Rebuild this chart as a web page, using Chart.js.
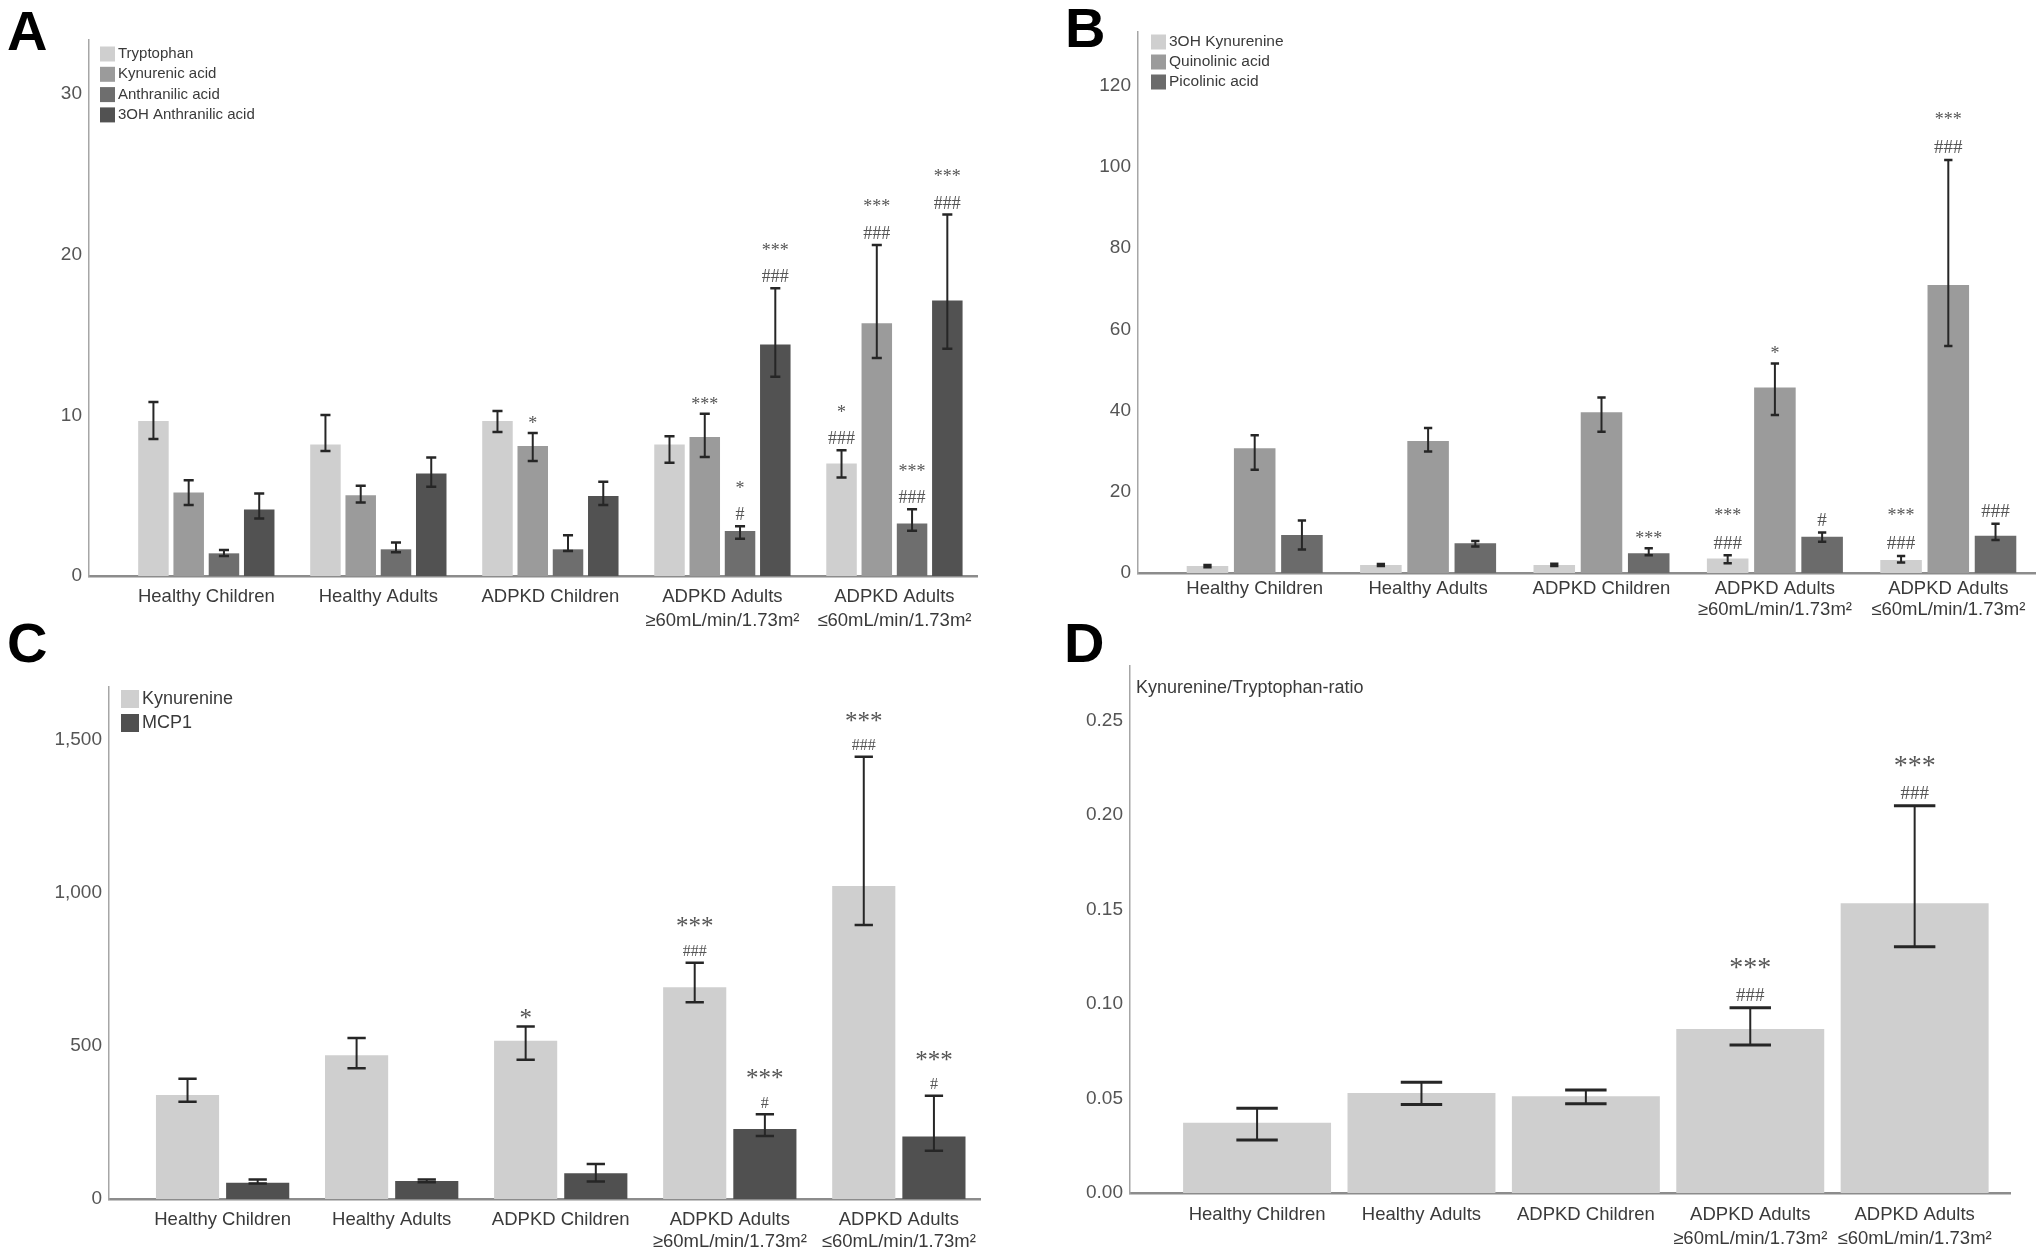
<!DOCTYPE html>
<html>
<head>
<meta charset="utf-8">
<script src="https://cdn.jsdelivr.net/npm/chart.js@4.4.1/dist/chart.umd.min.js"></script>
<style>
  body { margin: 0; background: #fff; }
  #page { position: relative; width: 2041px; height: 1258px; overflow: hidden; background: #fff; }
  canvas { position: absolute; }
  .letter { position: absolute; font: bold 56px 'Liberation Sans', Arial, sans-serif; line-height: 56px; color: #000; }
</style>
</head>
<body>
<div id="page">
  <canvas id="chartA" width="1000" height="640" style="left:0;top:0"></canvas>
  <canvas id="chartB" width="987" height="640" style="left:1054px;top:0"></canvas>
  <canvas id="chartC" width="1000" height="618" style="left:0;top:640px"></canvas>
  <canvas id="chartD" width="987" height="618" style="left:1054px;top:640px"></canvas>
  <div class="letter" style="left:7px;top:3px">A</div>
  <div class="letter" style="left:1065px;top:0">B</div>
  <div class="letter" style="left:7px;top:615px">C</div>
  <div class="letter" style="left:1064px;top:615px">D</div>
</div>
<script>
// groups shared by all four panels
const groups = [
    ['Healthy Children'],
    ['Healthy Adults'],
    ['ADPKD Children'],
    ['ADPKD Adults', '≥60mL/min/1.73m²'],
    ['ADPKD Adults', '≤60mL/min/1.73m²']
];

// Panel A
const aTicks = [0, 10, 20, 30];
const aTickLabels = ['0', '10', '20', '30'];
const tryptophan = [9.65, 8.18, 9.65, 8.18, 7.0];
const tryptophanLow = [8.53, 7.78, 8.96, 7.04, 6.13];
const tryptophanHigh = [10.83, 10.02, 10.27, 8.7, 7.83];
const tryptophanNotes = ['', '', '', '', ['*', '###']];
const kynurenicAcid = [5.2, 5.03, 8.09, 8.65, 15.73];
const kynurenicLow = [4.41, 4.57, 7.16, 7.41, 13.56];
const kynurenicHigh = [5.96, 5.61, 8.9, 10.1, 20.6];
const kynurenicNotes = ['', '', ['*'], ['***'], ['***', '###']];
const anthranilicAcid = [1.41, 1.66, 1.66, 2.8, 3.27];
const anthranilicLow = [1.24, 1.47, 1.55, 2.32, 2.82];
const anthranilicHigh = [1.61, 2.09, 2.53, 3.1, 4.16];
const anthranilicNotes = ['', '', '', ['*', '#'], ['***', '###']];
const ohAnthranilic = [4.14, 6.38, 4.97, 14.4, 17.14];
const ohAnthranilicLow = [3.58, 5.55, 4.41, 12.4, 14.14];
const ohAnthranilicHigh = [5.14, 7.37, 5.86, 17.9, 22.5];
const ohAnthranilicNotes = ['', '', '', ['***', '###'], ['***', '###']];

// Panel B
const bTicks = [0, 20, 40, 60, 80, 100, 120];
const bTickLabels = ['0', '20', '40', '60', '80', '100', '120'];
const ohKynurenine = [1.72, 1.97, 1.97, 3.6, 3.2];
const ohKynurenineLow = [1.4, 1.7, 1.7, 2.4, 2.6];
const ohKynurenineHigh = [2.0, 2.2, 2.3, 4.4, 4.2];
const ohKynurenineNotes = ['', '', '', ['***', '###'], ['***', '###']];
const quinolinicAcid = [30.7, 32.5, 39.6, 45.7, 70.9];
const quinolinicLow = [25.4, 29.9, 34.8, 38.9, 55.9];
const quinolinicHigh = [33.9, 35.7, 43.2, 51.6, 101.7];
const quinolinicNotes = ['', '', '', ['*'], ['***', '###']];
const picolinicAcid = [9.36, 7.3, 4.85, 8.9, 9.2];
const picolinicLow = [5.8, 6.5, 4.4, 7.7, 8.1];
const picolinicHigh = [12.9, 7.9, 6.1, 10.0, 12.1];
const picolinicNotes = ['', '', ['***'], ['#'], ['###']];

// Panel C
const cTicks = [0, 500, 1000, 1500];
const cTickLabels = ['0', '500', '1,000', '1,500'];
const kynurenine = [340, 470, 517, 692, 1023];
const kynurenineLow = [318, 427, 455, 643, 895];
const kynurenineHigh = [393, 526, 564, 772, 1445];
const kynurenineNotes = ['', '', ['*'], ['***', '###'], ['***', '###']];
const mcp1 = [53, 59, 84, 229, 204];
const mcp1Low = [51, 55, 57, 206, 158];
const mcp1High = [64, 64, 114, 277, 337];
const mcp1Notes = ['', '', '', ['***', '#'], ['***', '#']];

// Panel D
const dTicks = [0, 0.05, 0.10, 0.15, 0.20, 0.25];
const dTickLabels = ['0.00', '0.05', '0.10', '0.15', '0.20', '0.25'];
const kynTrpRatio = [0.0372, 0.0529, 0.0512, 0.0868, 0.1533];
const kynTrpLow = [0.0280, 0.0468, 0.0472, 0.0783, 0.1303];
const kynTrpHigh = [0.0448, 0.0586, 0.0545, 0.0980, 0.2049];
const kynTrpNotes = ['', '', '', ['***', '###'], ['***', '###']];

Chart.defaults.font.family = "'Liberation Sans', Arial, sans-serif";
Chart.defaults.color = '#444';

// error bars drawn from the y scale at each bar's centre
const errorBars = {
    id: 'errorBars',
    afterDatasetsDraw(chart, args, o) {
        const ctx = chart.ctx;
        const y = chart.scales.y;
        chart.data.datasets.forEach((ds, di) => {
            chart.getDatasetMeta(di).data.forEach((bar, i) => {
                const lo = y.getPixelForValue(ds.errLow[i]);
                const hi = y.getPixelForValue(ds.errHigh[i]);
                const half = Math.max(o.capMin, bar.width * o.capFrac) / 2;
                ctx.save();
                ctx.strokeStyle = '#262626';
                ctx.lineWidth = o.width;
                ctx.beginPath();
                ctx.moveTo(bar.x, lo);
                ctx.lineTo(bar.x, hi);
                ctx.stroke();
                ctx.lineWidth = o.capWidth;
                ctx.beginPath();
                ctx.moveTo(bar.x - half, hi);
                ctx.lineTo(bar.x + half, hi);
                ctx.moveTo(bar.x - half, lo);
                ctx.lineTo(bar.x + half, lo);
                ctx.stroke();
                ctx.restore();
            });
        });
    }
};

// significance marks stacked above the upper error bar
const sigNotes = {
    id: 'sigNotes',
    afterDatasetsDraw(chart, args, o) {
        const ctx = chart.ctx;
        const y = chart.scales.y;
        ctx.save();
        ctx.fillStyle = '#555';
        ctx.textAlign = 'center';
        ctx.textBaseline = 'alphabetic';
        chart.data.datasets.forEach((ds, di) => {
            chart.getDatasetMeta(di).data.forEach((bar, i) => {
                const lines = ds.notes[i];
                if (!lines) return;
                const top = y.getPixelForValue(ds.errHigh[i]);
                lines.slice().reverse().forEach((txt, j) => {
                    const star = txt[0] === '*';
                    const size = star ? o.starSize : o.hashSize;
                    const cy = top - o.gap - j * o.step;
                    ctx.font = size + "px 'Liberation Serif', 'Times New Roman', serif";
                    ctx.fillText(txt, bar.x, cy + size * (star ? 0.47 : 0.34));
                });
            });
        });
        ctx.restore();
    }
};

// small legend inside the plot area
const boxLegend = {
    id: 'boxLegend',
    afterDraw(chart, args, o) {
        const ctx = chart.ctx;
        ctx.save();
        ctx.font = o.font;
        ctx.textBaseline = 'middle';
        chart.data.datasets.forEach((ds, i) => {
            const cy = o.y + i * o.step;
            if (o.box > 0) {
                ctx.fillStyle = ds.backgroundColor;
                ctx.fillRect(o.x, cy - o.box / 2, o.box, o.box);
            }
            ctx.fillStyle = '#3a3a3a';
            ctx.fillText(ds.label, o.textX, cy);
        });
        ctx.restore();
    }
};

function series(label, color, values, low, high, notes) {
    return {
        label: label,
        data: values.map((v, i) => ({ x: i, y: v })),
        backgroundColor: color,
        errLow: low,
        errHigh: high,
        notes: notes
    };
}

function makePanel(id, p) {
    new Chart(document.getElementById(id), {
        type: 'bar',
        data: { datasets: p.datasets },
        plugins: [errorBars, sigNotes, boxLegend],
        options: {
            responsive: false,
            animation: false,
            categoryPercentage: p.cp,
            barPercentage: p.bp,
            layout: { padding: { top: p.padTop, right: p.padRight, left: 0, bottom: 0 } },
            plugins: {
                legend: { display: false },
                tooltip: { enabled: false },
                errorBars: { capFrac: p.capFrac, capMin: 8, width: 2, capWidth: p.capWidth },
                sigNotes: p.notes,
                boxLegend: p.legend
            },
            scales: {
                x: {
                    type: 'linear',
                    min: p.xMin,
                    max: p.xMax,
                    offset: false,
                    grid: { display: false, drawTicks: false, offset: false },
                    border: { display: true, color: '#8c8c8c', width: 2.5 },
                    afterBuildTicks: s => { s.ticks = groups.map((g, i) => ({ value: i })); },
                    afterFit: s => { s.height = p.xHeight; },
                    ticks: {
                        autoSkip: false,
                        maxRotation: 0,
                        minRotation: 0,
                        padding: p.xPad,
                        color: '#3a3a3a',
                        font: { size: 18.5, lineHeight: p.lineHeight },
                        callback: v => groups[Math.round(v)]
                    }
                },
                y: {
                    min: 0,
                    max: p.yMax,
                    grid: { display: false, drawTicks: false },
                    border: { display: true, color: '#a6a6a6', width: 1.5 },
                    afterBuildTicks: s => { s.ticks = p.ticks.map(v => ({ value: v })); },
                    afterFit: s => { s.width = p.yWidth; },
                    ticks: {
                        padding: 7,
                        color: '#555',
                        font: { size: 19 },
                        callback: v => p.tickLabels[p.ticks.findIndex(t => Math.abs(t - v) < 1e-9)]
                    }
                }
            }
        }
    });
}

makePanel('chartA', {
    datasets: [
        series('Tryptophan', '#cfcfcf', tryptophan, tryptophanLow, tryptophanHigh, tryptophanNotes),
        series('Kynurenic acid', '#9b9b9b', kynurenicAcid, kynurenicLow, kynurenicHigh, kynurenicNotes),
        series('Anthranilic acid', '#6e6e6e', anthranilicAcid, anthranilicLow, anthranilicHigh, anthranilicNotes),
        series('3OH Anthranilic acid', '#525252', ohAnthranilic, ohAnthranilicLow, ohAnthranilicHigh, ohAnthranilicNotes)
    ],
    ticks: aTicks, tickLabels: aTickLabels,
    cp: 0.82, bp: 0.865, capFrac: 0.33, capWidth: 2.5,
    padTop: 40, padRight: 23, xHeight: 64, yWidth: 89,
    xMin: -0.682, xMax: 4.48, yMax: 33.35, xPad: 9, lineHeight: 1.3,
    notes: { starSize: 18, hashSize: 18, gap: 12, step: 29 },
    legend: { x: 100, textX: 118, y: 54, step: 20.3, box: 15, font: "15px 'Liberation Sans', Arial, sans-serif" }
});

makePanel('chartB', {
    datasets: [
        series('3OH Kynurenine', '#cfcfcf', ohKynurenine, ohKynurenineLow, ohKynurenineHigh, ohKynurenineNotes),
        series('Quinolinic acid', '#9b9b9b', quinolinicAcid, quinolinicLow, quinolinicHigh, quinolinicNotes),
        series('Picolinic acid', '#6b6b6b', picolinicAcid, picolinicLow, picolinicHigh, picolinicNotes)
    ],
    ticks: bTicks, tickLabels: bTickLabels,
    cp: 0.817, bp: 0.88, capFrac: 0.2, capWidth: 2.5,
    padTop: 32, padRight: 6, xHeight: 67, yWidth: 84,
    xMin: -0.673, xMax: 4.50, yMax: 133.2, xPad: 6, lineHeight: 1.1,
    notes: { starSize: 18, hashSize: 19, gap: 13, step: 30 },
    legend: { x: 97, textX: 115, y: 42, step: 20, box: 15, font: "15.5px 'Liberation Sans', Arial, sans-serif" }
});

makePanel('chartC', {
    datasets: [
        series('Kynurenine', '#cfcfcf', kynurenine, kynurenineLow, kynurenineHigh, kynurenineNotes),
        series('MCP1', '#505050', mcp1, mcp1Low, mcp1High, mcp1Notes)
    ],
    ticks: cTicks, tickLabels: cTickLabels,
    cp: 0.83, bp: 0.9, capFrac: 0.29, capWidth: 2.5,
    padTop: 47, padRight: 20, xHeight: 59, yWidth: 109,
    xMin: -0.672, xMax: 4.48, yMax: 1673, xPad: 10, lineHeight: 1.2,
    notes: { starSize: 25, hashSize: 16, gap: 12, step: 28 },
    legend: { x: 121, textX: 142, y: 59, step: 24, box: 18, font: "18px 'Liberation Sans', Arial, sans-serif" }
});

makePanel('chartD', {
    datasets: [
        series('Kynurenine/Tryptophan-ratio', '#cfcfcf', kynTrpRatio, kynTrpLow, kynTrpHigh, kynTrpNotes)
    ],
    ticks: dTicks, tickLabels: dTickLabels,
    cp: 0.9, bp: 1, capFrac: 0.28, capWidth: 3,
    padTop: 26, padRight: 31, xHeight: 65, yWidth: 76,
    xMin: -0.773, xMax: 4.58, yMax: 0.2788, xPad: 10, lineHeight: 1.3,
    notes: { starSize: 28, hashSize: 19, gap: 13, step: 32 },
    legend: { x: 82, textX: 82, y: 48, step: 0, box: 0, font: "18px 'Liberation Sans', Arial, sans-serif" }
});
</script>
</body>
</html>
